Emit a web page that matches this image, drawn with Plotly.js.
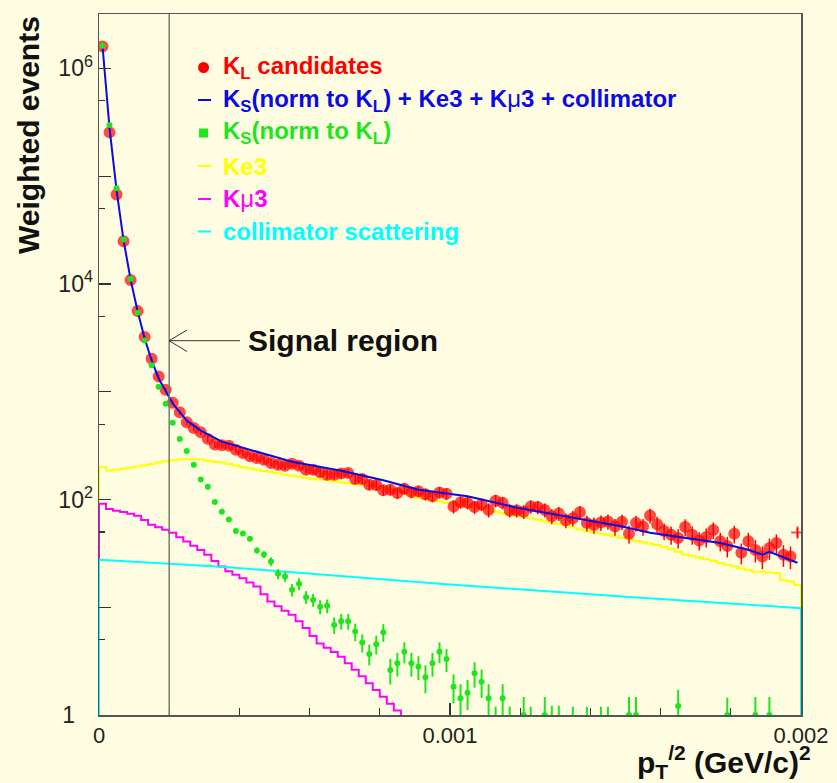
<!DOCTYPE html>
<html><head><meta charset="utf-8">
<script src="https://cdn.plot.ly/plotly-3.0.1.min.js"></script>
<style>html,body{margin:0;padding:0;background:#fffde1;}</style>
</head><body><div id="chart" style="width:837px;height:783px;"></div>
<script>
// ---- binning ----
const binWidth = 0.00002;
const nBins = 100;
const signalCut = 0.0002;

// ---- K_L candidates (data points) ----
const klCandidates = [1.6e6, 2.55e5, 6.76e4, 2.49e4, 1.087e4, 5600, 3214, 2023, 1384, 1042,
  789, 646, 521, 461, 421, 365, 323, 318, 316, 290,
  270, 252, 243, 234, 218, 210, 206, 215, 206, 189,
  189, 179, 170, 170, 174, 176, 155, 155, 137, 136,
  122, 123, 115, 126, 117, 119, 112, 107, 116, 113,
  86, 94, 93, 85, 90, 80, 97.5, 93, 79, 79,
  77, 86, 85, 80, 70, 74, 64, 67, 76, 60.5,
  58, 61, 62.5, 56, 62, 48, 60.5, 56, 71, 59,
  51, 47, 44, 55.5, 47, 41.7, 44.8, 52, 41, 37,
  48, 32, 41, 34, 29.6, 35.4, 39.4, 30.7, 29.6, 49.4];
const klErrors = [1600, 650, 340, 200, 135, 97, 73, 58, 48, 42,
  36, 33, 30, 28, 26, 25, 23, 23, 23, 22,
  21, 20, 20, 20, 19, 19, 18, 19, 18, 18,
  18, 17, 17, 17, 17, 17, 16, 16, 15, 15,
  14, 14, 14, 15, 14, 14, 14, 13, 14, 14,
  12, 12, 12, 12, 12, 12, 13, 12, 11, 11,
  11, 12, 12, 12, 11, 11, 10, 11, 11, 10,
  10, 10, 10, 10, 10, 9, 10, 10, 11, 10,
  9, 9, 9, 10, 9, 8, 9, 9, 8, 8,
  9, 7, 8, 8, 7, 8, 8, 7, 7, 5];

// ---- K_S (norm to K_L) ----
const ksNorm = [1.62e6, 2.98e5, 7.73e4, 2.59e4, 1.12e4, 5410, 2992, 1762, 1112, 773,
  514, 365, 282, 210, 153, 131, 94.8, 77.1, 65.3, 50.9,
  48.4, 43.3, 33.7, 30.9, 26.6, 20.4, 19.3, 14.5, 16.5, 12.4,
  11.7, 10.1, 10.3, 6.85, 7.43, 7.43, 5.94, 4.70, 3.69, 4.54,
  5.87, 2.62, 3.02, 3.87, 3.02, 2.81, 2.24, 3.02, 3.87, 3.30,
  1.83, 1.43, 1.61, 2.44, 2.04, 1.43, 0.59, 1.43, 0.59, null,
  1.0, 0.59, null, 1.0, 0.6, 0.6, null, 0.59, null, 0.59,
  null, 0.59, 0.59, null, null, 1.0, 1.0, null, null, null,
  null, null, 1.21, null, null, null, null, null, null, 1.0,
  null, null, null, 1.0, null, 1.0, null, null, null, null];
const ksErrors = [8000, 3000, 1200, 500, 250, 140, 90, 60, 40, 25,
  15, 11, 9, 7, 6, 5, 4, 3.5, 3, 2.5,
  2.4, 2.3, 2.2, 2.2, 2.4, 2.2, 2.1, 1.9, 2.1, 1.7,
  1.6, 1.5, 1.5, 1.2, 1.25, 1.25, 1.1, 0.9, 0.8, 0.9,
  1.1, 0.7, 0.75, 0.85, 0.75, 0.7, 0.65, 0.75, 0.85, 0.8,
  0.55, 0.5, 0.5, 0.65, 0.6, 0.5, 0.6, 0.5, 0.6, 0,
  0.47, 0.6, 0, 0.47, 0.62, 0.62, 0, 0.6, 0, 0.6,
  0, 0.6, 0.6, 0, 0, 0.47, 0.47, 0, 0, 0,
  0, 0, 0.5, 0, 0, 0, 0, 0, 0, 0.45,
  0, 0, 0, 0.47, 0, 0.47, 0, 0, 0, 0];

// ---- Sum: K_S + Ke3 + Kmu3 + collimator (read at these bins) ----
const sumBins = [0,1,2,3,4,5,6,7,8,9,10,12,14,17,21,27,34,40,45,52,59,64,69,74,78,83,88,92,94,95,98,99];
const sumValues = [1.615e6, 2.79e5, 7.41e4, 2.54e4, 1.10e4, 5570, 3120, 1950, 1327, 1005,
  777, 540, 436, 344, 290, 224, 185, 151, 123, 107, 84, 73.8, 64.9, 56.2, 49.1, 43.9, 39.4, 34.2, 30.7, 32.7, 27.2, 25.9];

// ---- Ke3 histogram ----
const ke3 = [199.5, 186.2, 188.4, 193.2, 197.2, 201.8, 208.0, 213.8, 220.3, 226.5,
  230.7, 234.4, 237.7, 237.7, 235.5, 229.1, 223.9, 219.8, 213.8, 206.5,
  199.5, 195.0, 189.2, 184.1, 179.9, 175.0, 170.6, 166.3, 162.2, 158.5,
  156.0, 153.5, 151.4, 147.9, 144.5, 141.9, 139.3, 136.5, 133.7, 131.2,
  128.8, 124.5, 120.2, 115.3, 109.6, 103.3, 101.2, 98.9, 96.4, 93.3,
  91.2, 88.7, 86.3, 84.1, 81.7, 79.4, 76.9, 74.5, 72.4, 70.8,
  69.2, 67.0, 64.9, 62.8, 60.8, 59.2, 57.5, 55.0, 52.7, 50.6,
  49.5, 48.4, 47.0, 45.5, 43.9, 42.7, 41.3, 40.1, 38.9, 37.8,
  36.3, 34.7, 32.7, 30.9, 30.1, 29.0, 27.9, 26.8, 25.7, 24.8,
  24.0, 22.9, 22.1, 21.4, 21.4, 21.0, 20.8, 17.8, 17.3, 16.1];

// ---- Kmu3 histogram (bins 0..43, falls below 1 after) ----
const kmu3 = [91.4, 81.7, 78.5, 76.7, 73.8, 70.6, 64.6, 58.3, 55.2, 52.4,
  49.0, 44.7, 40.8, 37.2, 33.9, 30.7, 26.9, 23.9, 21.6, 20.0,
  18.6, 17.0, 15.6, 13.2, 11.3, 10.2, 9.3, 8.5, 7.4, 6.4,
  5.4, 4.6, 4.2, 3.85, 3.48, 3.02, 2.63, 2.29, 1.97, 1.71,
  1.48, 1.27, 1.10, 0.5];

// ---- collimator scattering ----
const collX = [0, 0.00036, 0.00097, 0.00149, 0.002];
const collY = [27.6, 23.6, 16.5, 12.6, 9.8];

// ---- axis labels ----
const xTickVals = [0, 0.001, 0.002];
const xTickText = ['0', '0.001', '0.002'];
const yTickVals = [1, 10, 100, 1e3, 1e4, 1e5, 1e6];
const yTickText = ['1<sup>\u2007\u2007</sup>', ' ', '10<sup>2</sup>', ' ', '10<sup>4</sup>', ' ', '10<sup>6</sup>'];
const yMinorVals = [5, 50, 500, 5e3, 5e4, 5e5];

// ---- derived bin geometry ----
const centers = Array.from({length: nBins}, (_, i) => (i + 0.5) * binWidth);
const edges = Array.from({length: nBins + 1}, (_, i) => i * binWidth);
const FLOOR = 0.01;
function stepXY(vals, closeRight) {
  const x = [edges[0], edges[0]], y = [FLOOR, vals[0]];
  for (let i = 1; i < vals.length; i++) { x.push(edges[i]); y.push(vals[i]); }
  if (closeRight) { x.push(edges[vals.length]); y.push(vals[vals.length - 1]); x.push(edges[vals.length]); y.push(FLOOR); }
  return {x, y};
}
const ke3Step = stepXY(ke3, true);
const kmu3Step = stepXY(kmu3, false);

const FONT = 'Liberation Sans, Arial, Helvetica, sans-serif';
const RED = '#ff0000', BLUE = '#0a0ae6', GREEN = '#1ee61e', YEL = '#ffff00', MAG = '#ff00ff', CYAN = '#00ffff';

const traces = [
  {x: ke3Step.x, y: ke3Step.y, mode: 'lines', line: {shape: 'hv', color: YEL, width: 2}, hoverinfo: 'skip'},
  {x: kmu3Step.x, y: kmu3Step.y, mode: 'lines', line: {shape: 'hv', color: MAG, width: 2}, hoverinfo: 'skip'},
  {x: [collX[0]].concat(collX, [collX[collX.length-1]]), y: [FLOOR].concat(collY, [FLOOR]),
   mode: 'lines', line: {color: CYAN, width: 2}, hoverinfo: 'skip'},
  {x: centers, y: klCandidates, mode: 'markers',
   marker: {color: RED, size: centers.map((_, i) => i === nBins - 1 ? 9 : 10),
            symbol: centers.map((_, i) => i === nBins - 1 ? 'cross-thin' : 'circle'),
            line: {color: RED, width: 2}},
   error_y: {type: 'data', array: klErrors, visible: true, color: RED, thickness: 1.5, width: 0}},
  {x: sumBins.map(b => centers[b]), y: sumValues, mode: 'lines', line: {color: BLUE, width: 2}},
  {x: centers, y: ksNorm, mode: 'markers', marker: {color: GREEN, size: 6, symbol: 'circle'},
   error_y: {type: 'data', array: ksErrors, visible: true, color: GREEN, thickness: 2, width: 0},
   error_x: {type: 'constant', value: binWidth * 0.3, visible: true, color: GREEN, thickness: 2, width: 0}}
];

function px2x(px) { return (px - 99) / 701.7; }
function py2y(py) { return (715 - py) / 701; }

const legendRows = [
  {text: '<b>K<sub>L</sub> candidates</b>', color: RED, py: 67.5, sym: 'circle'},
  {text: '<b>K<sub>S</sub>(norm to K<sub>L</sub>) + Ke3 + K</b>μ<b>3 + collimator</b>', color: BLUE, py: 100, sym: 'line'},
  {text: '<b>K<sub>S</sub>(norm to K<sub>L</sub>)</b>', color: GREEN, py: 133, sym: 'square'},
  {text: '<b>Ke3</b>', color: YEL, py: 166, sym: 'line'},
  {text: '<b>K</b>μ<b>3</b>', color: MAG, py: 199, sym: 'line'},
  {text: '<b>collimator scattering</b>', color: CYAN, py: 231.5, sym: 'line'}
];

const shapes = [
  {type: 'line', xref: 'x', yref: 'paper', x0: signalCut, x1: signalCut, y0: 0, y1: 1,
   line: {color: '#7a7a6a', width: 1.5}},
  {type: 'line', xref: 'paper', yref: 'paper', x0: px2x(169), x1: px2x(240), y0: py2y(340.7), y1: py2y(340.7),
   line: {color: '#333', width: 1}},
  {type: 'line', xref: 'paper', yref: 'paper', x0: px2x(169), x1: px2x(187), y0: py2y(340.7), y1: py2y(330),
   line: {color: '#333', width: 1}},
  {type: 'line', xref: 'paper', yref: 'paper', x0: px2x(169), x1: px2x(187), y0: py2y(340.7), y1: py2y(351.5),
   line: {color: '#333', width: 1}}
];
const annotations = [
  {xref: 'paper', yref: 'paper', x: px2x(246), y: py2y(340), xanchor: 'left', yanchor: 'middle',
   text: '<b>Signal region</b>', showarrow: false, font: {family: FONT, size: 30, color: '#111'}},
  {xref: 'paper', yref: 'paper', x: px2x(28), y: py2y(135), xanchor: 'center', yanchor: 'middle', textangle: -90,
   text: '<b>Weighted events</b>', showarrow: false, font: {family: FONT, size: 30, color: '#111'}},
  {xref: 'paper', yref: 'paper', x: px2x(724), y: py2y(762), xanchor: 'center', yanchor: 'middle',
   text: '<b>p<sub>T</sub><sup>/2</sup> (GeV/c)<sup>2</sup></b>', showarrow: false, font: {family: FONT, size: 30, color: '#111'}}
];
legendRows.forEach(r => {
  annotations.push({xref: 'paper', yref: 'paper', x: px2x(221), y: py2y(r.py), xanchor: 'left', yanchor: 'middle',
    text: r.text, showarrow: false, font: {family: FONT, size: 24, color: r.color}});
  if (r.sym === 'line') {
    shapes.push({type: 'line', xref: 'paper', yref: 'paper', x0: px2x(198), x1: px2x(211), y0: py2y(r.py), y1: py2y(r.py),
      line: {color: r.color, width: 2}});
  } else {
    const h = r.sym === 'circle' ? 5.5 : 4.5;
    shapes.push({type: r.sym === 'circle' ? 'circle' : 'rect', xref: 'paper', yref: 'paper',
      xsizemode: 'pixel', ysizemode: 'pixel', xanchor: px2x(203.5), yanchor: py2y(r.py),
      x0: -h, x1: h, y0: -h, y1: h, fillcolor: r.color, line: {width: 0}});
  }
});

const layout = {
  width: 837, height: 783,
  margin: {l: 99, r: 36, t: 14, b: 68},
  paper_bgcolor: '#fffde1', plot_bgcolor: '#fffde1',
  showlegend: false,
  font: {family: FONT, size: 22, color: '#222'},
  xaxis: {range: [0, 0.002], tickvals: xTickVals, ticktext: xTickText, ticks: 'inside', ticklen: 12,
    tickwidth: 1.2, tickcolor: '#333', showgrid: false, zeroline: false, showline: true, mirror: true,
    linecolor: '#555', linewidth: 1.5, tickfont: {family: FONT, size: 22, color: '#222'},
    minor: {dtick: 0.0002, tick0: 0, ticks: 'inside', ticklen: 7, tickcolor: '#333', tickwidth: 1.2, showgrid: false}},
  yaxis: {type: 'log', range: [0, 6.505], tickvals: yTickVals, ticktext: yTickText, ticks: 'inside', ticklen: 12,
    tickwidth: 1.2, tickcolor: '#333', showgrid: false, zeroline: false, showline: true, mirror: true,
    linecolor: '#555', linewidth: 1.5, tickfont: {family: FONT, size: 23, color: '#222'},
    minor: {tickmode: 'array', tickvals: yMinorVals, ticks: 'inside', ticklen: 6, tickcolor: '#333', tickwidth: 1.2, showgrid: false}},
  shapes: shapes,
  annotations: annotations
};

Plotly.newPlot('chart', traces, layout, {displayModeBar: false, staticPlot: true});
</script>
</body></html>
